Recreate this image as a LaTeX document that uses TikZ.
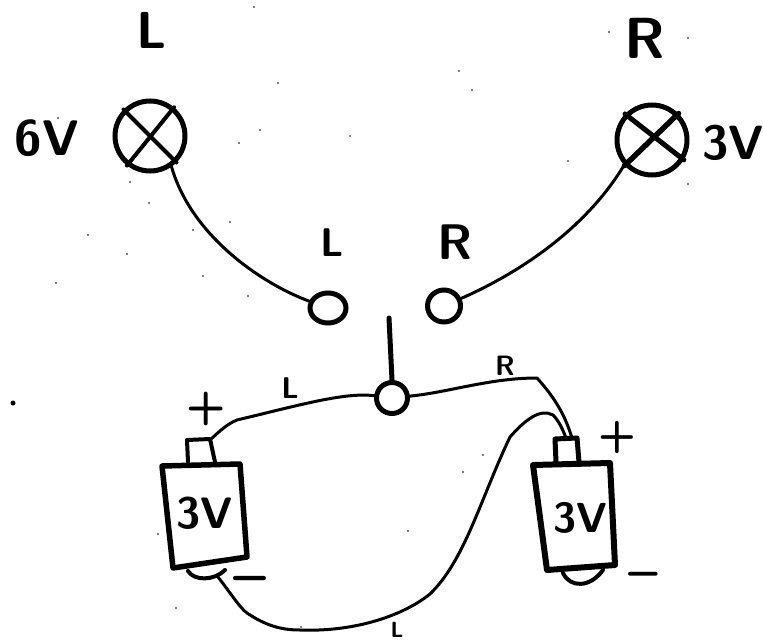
\documentclass[tikz,border=0pt]{standalone}
\usetikzlibrary{calc,shapes.geometric}
\tikzset{
    ink/.style={line width=#1,line join=round,line cap=round},
    ink/.default=3pt,
    lamp/.style={circle,draw,line width=5pt,minimum size=70pt,inner sep=0pt},
    contact/.style={ellipse,draw,line width=5pt,inner sep=0pt},
    hand/.style={inner sep=0pt,font=\sffamily\bfseries\fontsize{#1}{#1}\selectfont},
    speck/.style={fill,circle,inner sep=0pt,minimum size=#1}
}
\begin{document}
\begin{tikzpicture}[x=1pt,y=-1pt]
            \useasboundingbox (0,0) rectangle (763,642);
            \node[lamp] (lampL) at (150,136) {};
            \node[lamp] (lampR) at (652,140) {};
            \draw[ink=4pt] (lampL.135)--(lampL.-45);
            \draw[ink=4pt] (lampL.50)--(lampL.-128);
            \draw[ink=5pt] (lampR.136)--(lampR.-32);
            \draw[ink=5.5pt] (lampR.45)--(lampR.-137);
            \node[hand=52] (topL) at (152,30) {L};
            \node[hand=58] (topR) at (645,38) {R};
            \node[hand=50] (voltL) at (47,138) {6V};
            \node[hand=48] (voltR) at (733,143) {3V};
            \node[contact,minimum width=36pt,minimum height=30pt] (contactL) at (328,308) {};
            \node[contact,minimum width=33pt,minimum height=32pt] (contactR) at (444,306) {};
            \node[hand=40] (markL) at (332,243) {L};
            \node[hand=50] (markR) at (455,242) {R};
            \node[contact,minimum width=31pt,minimum height=31pt] (pivot) at (392,398) {};
            \coordinate (armEnd) at (389,318);
            \draw[ink=5pt] (pivot.north)--(armEnd);

            \coordinate (termL) at (211,439);
            \coordinate (termR) at (572,438);
            \coordinate (termRb) at (566,438);
            \coordinate (bumpL) at (218,577);

            \draw[ink=5.5pt] (162,466)--(240,464)--(247,557)--(173,568)--cycle;
            \draw[ink=4pt] (188,462)--(187,440)--(210,439)--(215,462);
            \draw[ink=4pt] (188,571) .. controls (194,581) and (214,581) .. (225,570);
            \node[hand=44] (batL) at (205,513) {3V};
            \node[hand=46] (plusL) at (206,409) {+};
            \node[hand=60] (minusL) at (250,586) {--};

            \draw[ink=6pt] (533,465)--(610,463)--(615,565)--(547,570)--cycle;
            \draw[ink=5pt] (556,462)--(555,439)--(577,438)--(579,462);
            \draw[ink=4pt] (563,573) .. controls (570,588) and (590,588) .. (603,570);
            \node[hand=42] (batR) at (580,518) {3V};
            \node[hand=44] (plusR) at (617,437) {+};
            \node[hand=54] (minusR) at (643,581) {--};

            \draw[ink] (lampL.-55) .. controls (192,238) and (265,285) .. (contactL);
            \draw[ink] (contactR) .. controls (530,268) and (590,222) .. (lampR.-138);
            \draw[ink] (pivot) .. controls (345,392) and (300,405) .. (237,420) .. controls (227,424) and (220,431) .. (termL);
            \draw[ink] (pivot) .. controls (450,392) and (490,378) .. (537,378) .. controls (555,398) and (565,415) .. (termR);
            \draw[ink] (bumpL) .. controls (232,595) and (240,608) .. (247,613) .. controls (265,625) and (280,630) .. (300,630)
                .. controls (350,632) and (400,618) .. (430,594) .. controls (465,560) and (480,500) .. (510,437)
                .. controls (525,420) and (540,408) .. (553,415) .. controls (559,421) and (563,430) .. (termRb);

            \node[hand=30] (wireLabelL) at (290,388) {L};
            \node[hand=28] (wireLabelR) at (505,366) {R};
            \node[hand=22] (wireLabelB) at (397,630) {L};

            \node[speck=5pt] (dotA) at (13,403) {};
            \foreach \i/\px/\py in {a/254/7,b/278/83,c/260/130,d/239/143,e/350/136,f/58/118,g/130/182,h/149/203,
                    k/88/235,l/127/254,m/56/283,n/193/230,o/230/222,p/203/276,q/248/296,r/609/32,s/688/38,
                    t/459/71,u/472/90,v/568/161,w/688/184,x/158/534,y/408/531,z/176/608,aa/301/627,ab/483/455,ac/463/472}
                \node[speck=1.6pt] (speck\i) at (\px,\py) {};
        \end{tikzpicture}
\end{document}
